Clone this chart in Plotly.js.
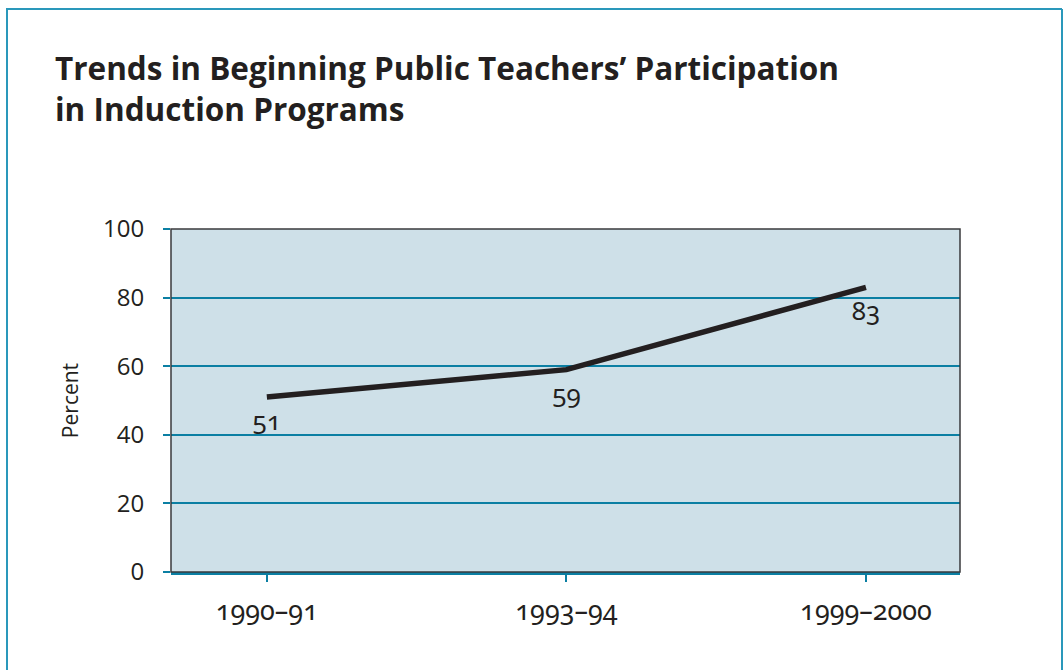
<!DOCTYPE html>
<html>
<head>
<meta charset="utf-8">
<script src="https://cdn.plot.ly/plotly-3.0.1.min.js"></script>
<style>
  html, body { margin: 0; padding: 0; background: #ffffff; }
  #chart { width: 1064px; height: 670px; }
  .xtick text, .textpoint text { font-feature-settings: "onum" 1; font-variant-numeric: oldstyle-nums; }
</style>
</head>
<body>
<div id="chart"></div>
<script>
const categories = ['1990\u201391', '1993\u201394', '1999\u20132000'];
const percentValues = [51, 59, 83];
const valueLabels = ['51', '59', '83'];
const yTickValues = [0, 20, 40, 60, 80, 100];

const ink = '#231f20';
const teal = '#0b7fa3';
const frameTeal = '#2a98bb';

const trace = {
  type: 'scatter',
  mode: 'lines+markers+text',
  x: categories,
  y: percentValues,
  text: valueLabels,
  textposition: 'bottom center',
  textfont: { family: 'Noto Sans, Open Sans, sans-serif', size: 26, color: ink },
  line: { color: ink, width: 5.5 },
  marker: { size: 20, color: 'rgba(0,0,0,0)' },
  cliponaxis: false,
  hoverinfo: 'skip'
};

// plot area in pixels: x 171..960, y 229..572
const L = 171, R = 960, T = 229, B = 572;
const px = v => (v - L) / (R - L);
const py = v => (B - v) / (B - T);

const layout = {
  width: 1064,
  height: 670,
  margin: { l: L, r: 1064 - R, t: T, b: 670 - B, pad: 0 },
  paper_bgcolor: '#ffffff',
  plot_bgcolor: '#cee0e8',
  showlegend: false,
  title: {
    text: 'Trends in Beginning Public Teachers\u2019 Participation<br>in Induction Programs',
    x: 55 / 1064,
    xref: 'container',
    xanchor: 'left',
    y: 1 - 80 / 670,
    yref: 'container',
    yanchor: 'top',
    font: { family: 'Open Sans, Noto Sans, sans-serif', size: 31.5, color: ink, weight: 700 }
  },
  xaxis: {
    type: 'category',
    range: [-0.32, 2.314],
    showgrid: false,
    zeroline: false,
    showline: true,
    linecolor: teal,
    linewidth: 3,
    ticks: 'outside',
    ticklen: 7,
    tickwidth: 2,
    tickcolor: teal,
    ticklabelstandoff: 6,
    tickfont: { family: 'Noto Sans, Open Sans, sans-serif', size: 27, color: ink },
    fixedrange: true
  },
  yaxis: {
    range: [0, 100],
    tickvals: yTickValues,
    ticktext: yTickValues.map(String),
    showgrid: true,
    gridcolor: teal,
    gridwidth: 2,
    zeroline: false,
    showline: false,
    ticks: 'outside',
    ticklen: 7,
    tickwidth: 2,
    tickcolor: teal,
    ticklabelstandoff: 14,
    tickfont: { family: 'Open Sans, Noto Sans, sans-serif', size: 24, color: ink },
    title: {
      text: 'Percent',
      standoff: 18,
      font: { family: 'Open Sans, Noto Sans, sans-serif', size: 21, color: ink }
    },
    fixedrange: true
  },
  shapes: [
    { type: 'rect', xref: 'paper', yref: 'paper', x0: 0, x1: 1, y0: 0, y1: 1,
      line: { color: '#3a3a3c', width: 1.5 }, fillcolor: 'rgba(0,0,0,0)', layer: 'above' },
    { type: 'line', xref: 'paper', yref: 'paper', x0: px(7), x1: px(7), y0: py(9), y1: py(672),
      line: { color: frameTeal, width: 2 } },
    { type: 'line', xref: 'paper', yref: 'paper', x0: px(6), x1: px(1062), y0: py(9), y1: py(9),
      line: { color: frameTeal, width: 2 } },
    { type: 'line', xref: 'paper', yref: 'paper', x0: px(1062), x1: px(1062), y0: py(9), y1: py(672),
      line: { color: frameTeal, width: 2 } }
  ]
};

Plotly.newPlot('chart', [trace], layout, { staticPlot: true, displayModeBar: false });
</script>
</body>
</html>
